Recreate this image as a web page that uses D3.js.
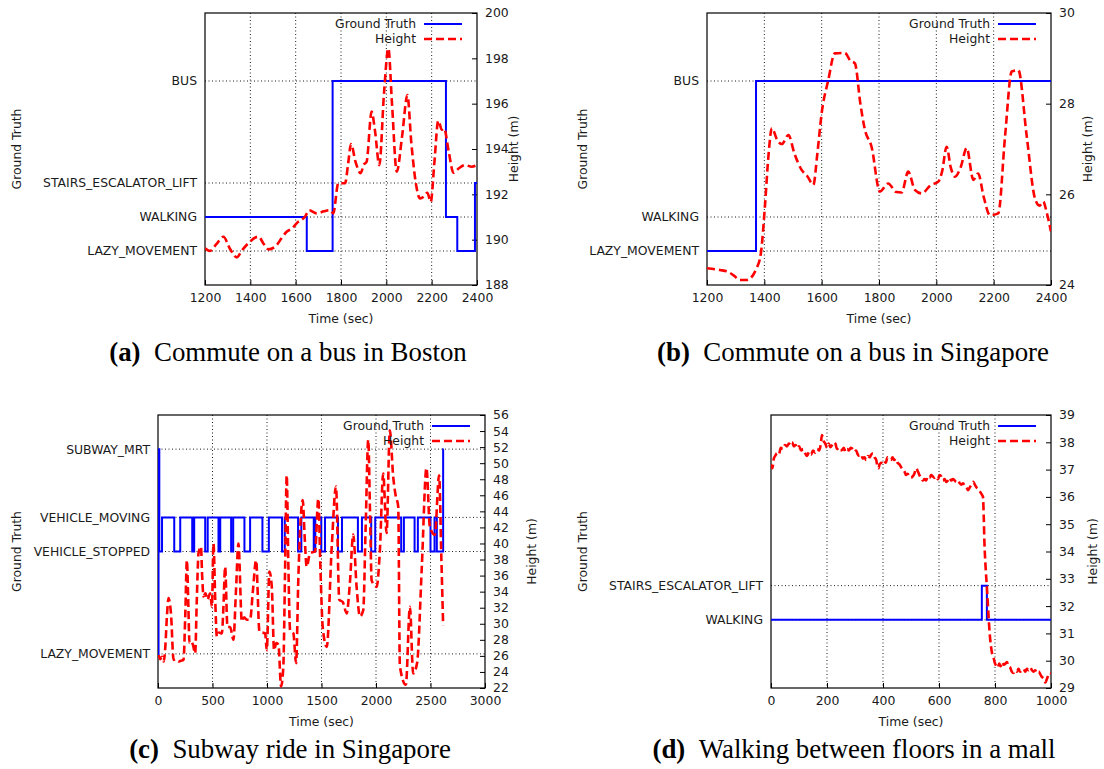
<!DOCTYPE html>
<html><head><meta charset="utf-8">
<script src="https://cdn.jsdelivr.net/npm/d3@7/dist/d3.min.js"></script>
<style>body{margin:0;background:#fff}svg{display:block}</style>
</head><body>
<svg id="c" width="1104" height="769"></svg>
<script>
// ---------- DATA ----------
const categoryCodes = {LAZY_MOVEMENT:1, WALKING:2, STAIRS_ESCALATOR_LIFT:3, VEHICLE_STOPPED:4, VEHICLE_MOVING:5, BUS:6, SUBWAY_MRT:7};
const legendLabels = ["Ground Truth", "Height"];
const captions = [
  ["a", "Commute on a bus in Boston"],
  ["b", "Commute on a bus in Singapore"],
  ["c", "Subway ride in Singapore"],
  ["d", "Walking between floors in a mall"]
];
// panel (a) Boston bus
const catsBoston = ["BUS", "STAIRS_ESCALATOR_LIFT", "WALKING", "LAZY_MOVEMENT"];
const timeTicksBus = [1200, 1400, 1600, 1800, 2000, 2200, 2400];
const heightTicksBoston = [188, 190, 192, 194, 196, 198, 200];
const truthBoston = [[1200,"WALKING"],[1649,"LAZY_MOVEMENT"],[1763,"BUS"],[2263,"WALKING"],[2313,"LAZY_MOVEMENT"],[2391,"STAIRS_ESCALATOR_LIFT"],[2400,"STAIRS_ESCALATOR_LIFT"]];
const heightBoston = [[1200,189.62],[1222,189.5],[1250,189.8],[1281,190.13],[1310,189.6],[1340,189.22],[1365,189.55],[1391,189.84],[1435,190.13],[1460,189.8],[1480,189.57],[1516,189.76],[1540,190.1],[1560,190.35],[1585,190.5],[1604,190.72],[1641,191.01],[1660,191.3],[1693,191.16],[1725,191.25],[1751,191.3],[1766,191.16],[1788,192.49],[1818,192.49],[1832,193.4],[1844,194.22],[1865,193.4],[1887,192.93],[1900,193.3],[1913,193.44],[1935,195.65],[1950,194.8],[1969,193.29],[1990,196.5],[2009,198.44],[2025,196.0],[2046,193.0],[2070,194.6],[2093,196.38],[2110,194.3],[2130,192.5],[2149,191.82],[2165,191.9],[2181,192.07],[2196,191.67],[2212,193.4],[2229,195.25],[2245,194.85],[2255,194.91],[2275,193.9],[2296,192.95],[2320,193.15],[2347,193.29],[2377,193.22],[2400,193.29]];
// panel (b) Singapore bus
const catsSingapore = ["BUS", "WALKING", "LAZY_MOVEMENT"];
const heightTicksSingapore = [24, 26, 28, 30];
const truthSingapore = [[1200,"LAZY_MOVEMENT"],[1371,"BUS"],[2400,"BUS"]];
const heightSingapore = [[1200,24.37],[1245,24.33],[1274,24.29],[1295,24.2],[1315,24.11],[1338,24.11],[1373,24.37],[1388,24.7],[1402,25.73],[1415,26.9],[1426,27.46],[1445,27.2],[1461,27.11],[1484,27.31],[1505,26.9],[1530,26.54],[1550,26.4],[1571,26.21],[1585,26.9],[1600,27.79],[1623,28.52],[1646,29.11],[1681,29.12],[1700,28.95],[1716,28.89],[1735,28.0],[1751,27.42],[1774,27.05],[1803,26.06],[1832,26.24],[1860,26.05],[1879,26.04],[1902,26.5],[1925,26.1],[1949,26.02],[1980,26.2],[2007,26.28],[2020,26.5],[2036,27.05],[2050,26.6],[2065,26.39],[2085,26.6],[2106,27.02],[2129,26.32],[2146,26.46],[2165,25.95],[2187,25.54],[2216,25.58],[2240,27.3],[2263,28.71],[2286,28.74],[2315,27.3],[2344,25.91],[2360,25.75],[2373,25.84],[2385,25.6],[2400,25.18]];
// panel (c) subway
const catsSubway = ["SUBWAY_MRT", "VEHICLE_MOVING", "VEHICLE_STOPPED", "LAZY_MOVEMENT"];
const timeTicksSubway = [0, 500, 1000, 1500, 2000, 2500, 3000];
const heightTicksSubway = [22,24,26,28,30,32,34,36,38,40,42,44,46,48,50,52,54,56];
const truthSubway = [[0,"LAZY_MOVEMENT"],[5,"SUBWAY_MRT"],[12,"VEHICLE_STOPPED"],[37,"VEHICLE_MOVING"],[149,"VEHICLE_STOPPED"],[204,"VEHICLE_MOVING"],[314,"VEHICLE_STOPPED"],[332,"VEHICLE_MOVING"],[433,"VEHICLE_STOPPED"],[456,"VEHICLE_MOVING"],[555,"VEHICLE_STOPPED"],[571,"VEHICLE_MOVING"],[671,"VEHICLE_STOPPED"],[690,"VEHICLE_MOVING"],[793,"VEHICLE_STOPPED"],[845,"VEHICLE_MOVING"],[958,"VEHICLE_STOPPED"],[1017,"VEHICLE_MOVING"],[1138,"VEHICLE_STOPPED"],[1163,"VEHICLE_MOVING"],[1285,"VEHICLE_STOPPED"],[1315,"VEHICLE_MOVING"],[1429,"VEHICLE_STOPPED"],[1443,"VEHICLE_MOVING"],[1498,"VEHICLE_STOPPED"],[1532,"VEHICLE_MOVING"],[1651,"VEHICLE_STOPPED"],[1688,"VEHICLE_MOVING"],[1834,"VEHICLE_STOPPED"],[1871,"VEHICLE_MOVING"],[1956,"VEHICLE_STOPPED"],[1993,"VEHICLE_MOVING"],[2231,"VEHICLE_STOPPED"],[2256,"VEHICLE_MOVING"],[2354,"VEHICLE_STOPPED"],[2384,"VEHICLE_MOVING"],[2500,"VEHICLE_STOPPED"],[2537,"VEHICLE_MOVING"],[2558,"VEHICLE_STOPPED"],[2616,"SUBWAY_MRT"],[2620,"SUBWAY_MRT"]];
const heightSubway = [[5,26.1],[20,25.6],[37,25.9],[52,25.3],[67,27.1],[82,31],[97,33.2],[108,32.6],[119,31.3],[143,25.5],[160,25.6],[189,25.3],[210,25.4],[234,25.5],[250,31],[265,37.9],[277,33],[289,27.6],[305,27.8],[320,27.4],[341,26.3],[356,33],[372,38.8],[394,39.6],[405,36],[418,33.4],[436,33.8],[454,33.0],[479,33.8],[495,32.1],[509,40.0],[525,33],[540,28.4],[560,28.9],[586,28.8],[600,32],[616,37.1],[637,29.6],[662,29.6],[692,28.0],[715,34],[738,40.0],[769,30.3],[790,30.8],[815,30.5],[845,30.5],[870,34],[900,37.9],[931,29.0],[983,28.8],[998,26.7],[1022,36.5],[1044,34.6],[1065,26.7],[1085,27.6],[1105,27.4],[1129,22.2],[1150,24.7],[1165,36],[1181,48.5],[1195,38],[1212,29.2],[1242,28.8],[1267,25.1],[1288,35.9],[1328,45.4],[1345,41],[1364,37.1],[1395,38.8],[1441,39.0],[1471,45.6],[1490,37],[1511,29.6],[1548,27.1],[1594,39.6],[1633,47.1],[1663,33.0],[1695,32.7],[1731,31.3],[1760,35],[1791,41.1],[1822,34.6],[1853,30.9],[1883,31.7],[1905,42],[1929,52.9],[1945,44],[1960,35.4],[2006,34.6],[2036,39.2],[2066,48.7],[2097,41.3],[2127,54.1],[2158,48.3],[2180,46],[2204,44.6],[2219,24.7],[2274,22.4],[2311,32.1],[2341,23.8],[2377,25.1],[2420,37],[2463,49.4],[2494,42.1],[2540,41.1],[2579,48.5],[2600,38],[2616,29.8]];
// panel (d) mall
const catsMall = ["STAIRS_ESCALATOR_LIFT", "WALKING"];
const timeTicksMall = [0, 200, 400, 600, 800, 1000];
const heightTicksMall = [29, 30, 31, 32, 33, 34, 35, 36, 37, 38, 39];
const truthMall = [[0,"WALKING"],[753,"STAIRS_ESCALATOR_LIFT"],[771,"WALKING"],[1000,"WALKING"]];
const heightMall = [[0,37.2],[5,37.05],[10,37.4],[15,37.5],[22,37.6],[28,37.55],[35,37.8],[42,37.75],[50,37.9],[57,37.85],[64,37.95],[70,37.9],[75,38.0],[82,37.85],[88,37.9],[93,37.78],[100,37.85],[108,37.7],[115,37.75],[122,37.6],[129,37.5],[136,37.65],[143,37.55],[150,37.7],[158,37.62],[165,37.75],[172,37.7],[178,37.95],[182,38.27],[188,38.05],[194,37.95],[200,37.8],[206,37.95],[212,37.82],[218,37.9],[224,38.0],[230,37.95],[236,37.75],[242,37.8],[248,37.7],[254,37.72],[260,37.8],[266,37.65],[272,37.75],[278,37.7],[285,37.8],[292,37.75],[298,37.65],[304,37.7],[310,37.55],[316,37.5],[322,37.55],[328,37.4],[334,37.45],[340,37.35],[346,37.5],[352,37.45],[358,37.55],[364,37.6],[370,37.45],[376,37.35],[380,37.1],[384,37.05],[388,37.2],[394,37.25],[400,37.35],[405,37.3],[410,37.25],[416,37.45],[422,37.4],[428,37.35],[434,37.45],[440,37.35],[446,37.4],[452,37.25],[458,37.2],[464,37.1],[470,37.0],[476,36.95],[482,36.8],[488,36.85],[494,36.75],[500,36.7],[506,36.75],[512,36.85],[518,37.05],[524,36.95],[530,36.8],[536,36.7],[542,36.6],[548,36.65],[554,36.6],[560,36.75],[566,36.7],[572,36.8],[578,36.75],[584,36.7],[590,36.75],[596,36.65],[602,36.8],[608,36.75],[614,36.6],[620,36.65],[626,36.55],[632,36.6],[638,36.7],[644,36.6],[650,36.65],[656,36.6],[662,36.55],[668,36.6],[674,36.5],[680,36.45],[686,36.5],[692,36.4],[698,36.35],[704,36.25],[710,36.35],[716,36.45],[722,36.55],[728,36.45],[734,36.35],[740,36.3],[746,36.2],[752,36.1],[757,36.0],[760,35.2],[762,34.4],[766,33.5],[771,32.7],[776,31.8],[781,31.0],[786,30.5],[790,30.25],[795,30.1],[800,29.9],[805,29.8],[810,29.75],[815,29.9],[820,29.8],[826,29.95],[832,29.85],[838,29.9],[843,29.95],[848,29.8],[854,29.75],[860,29.6],[866,29.55],[872,29.65],[878,29.6],[884,29.7],[890,29.6],[896,29.65],[902,29.7],[908,29.6],[914,29.7],[920,29.65],[926,29.75],[932,29.65],[938,29.6],[944,29.65],[950,29.55],[956,29.6],[962,29.5],[968,29.4],[974,29.35],[980,29.2],[986,29.35],[992,29.5],[997,29.55],[1000,29.5]];

// ---------- LAYOUT ----------
const panels = [
  {box:[205,477,13,285], xDom:[1200,2400], xTicks:timeTicksBus, hDom:[188,200], hTicks:heightTicksBoston, cats:catsBoston, truth:truthBoston, height:heightBoston, gtX:17, hX:514, cap:captions[0], capX:288, capY:361},
  {box:[707,1051,13,285], xDom:[1200,2400], xTicks:timeTicksBus, hDom:[24,30], hTicks:heightTicksSingapore, cats:catsSingapore, truth:truthSingapore, height:heightSingapore, gtX:583, hX:1088, cap:captions[1], capX:853, capY:361},
  {box:[158,485,415,688], xDom:[0,3000], xTicks:timeTicksSubway, hDom:[22,56], hTicks:heightTicksSubway, cats:catsSubway, truth:truthSubway, height:heightSubway, gtX:17, hX:532, cap:captions[2], capX:290, capY:758},
  {box:[771,1051,415,688], xDom:[0,1000], xTicks:timeTicksMall, hDom:[29,39], hTicks:heightTicksMall, cats:catsMall, truth:truthMall, height:heightMall, gtX:583, hX:1093, cap:captions[3], capX:854, capY:758}
];
const SANS = "'DejaVu Sans', sans-serif";
const FS = "12.4px";
const TXT = "#1a1a1a";
const svg = d3.select("#c");
const defs = svg.append("defs");

panels.forEach((p, i) => {
  const [L, R, T, B] = p.box;
  const x = d3.scaleLinear().domain(p.xDom).range([L, R]);
  const yG = d3.scaleLinear().domain([0, 8]).range([B, T]);
  const yH = d3.scaleLinear().domain(p.hDom).range([B, T]);
  const g = svg.append("g");
  const clipId = "clip" + i;
  defs.append("clipPath").attr("id", clipId).append("rect").attr("x", L).attr("y", T).attr("width", R - L).attr("height", B - T);

  // grid
  const grid = g.append("g").attr("stroke", "#000").attr("stroke-width", 0.9).attr("stroke-dasharray", "1,2.5");
  p.xTicks.filter(v => v > p.xDom[0] && v < p.xDom[1]).forEach(v => {
    grid.append("line").attr("x1", x(v)).attr("x2", x(v)).attr("y1", T).attr("y2", B);
  });
  p.cats.forEach(c => {
    grid.append("line").attr("x1", L).attr("x2", R).attr("y1", yG(categoryCodes[c])).attr("y2", yG(categoryCodes[c]));
  });

  // x axis
  const xa = g.append("g").attr("transform", `translate(0,${B})`)
    .call(d3.axisBottom(x).tickValues(p.xTicks).tickFormat(d3.format("d")).tickSize(-5).tickPadding(8));
  xa.select(".domain").remove();
  xa.selectAll("text").style("font-family", SANS).style("font-size", FS).attr("fill", TXT);
  // left category axis
  const ya = g.append("g").attr("transform", `translate(${L},0)`)
    .call(d3.axisLeft(yG).tickValues(p.cats.map(c => categoryCodes[c])).tickFormat(v => p.cats.find(c => categoryCodes[c] === v)).tickSize(0).tickPadding(8));
  ya.select(".domain").remove();
  ya.selectAll("text").style("font-family", SANS).style("font-size", FS).attr("fill", TXT);
  // right height axis
  const ha = g.append("g").attr("transform", `translate(${R},0)`)
    .call(d3.axisRight(yH).tickValues(p.hTicks).tickFormat(d3.format("d")).tickSize(-5).tickPadding(8));
  ha.select(".domain").remove();
  ha.selectAll("text").style("font-family", SANS).style("font-size", FS).attr("fill", TXT);

  // frame
  g.append("rect").attr("x", L).attr("y", T).attr("width", R - L).attr("height", B - T).attr("fill", "none").attr("stroke", "#000").attr("stroke-width", 1.2);

  // axis titles
  g.append("text").attr("x", (L + R) / 2).attr("y", B + 38).attr("text-anchor", "middle").style("font-family", SANS).style("font-size", FS).attr("fill", TXT).text("Time (sec)");
  g.append("text").attr("transform", `translate(${p.gtX},${(T + B) / 2}) rotate(-90)`).attr("text-anchor", "middle").attr("dy", "0.35em").style("font-family", SANS).style("font-size", FS).attr("fill", TXT).text("Ground Truth");
  g.append("text").attr("transform", `translate(${p.hX},${(T + B) / 2}) rotate(-90)`).attr("text-anchor", "middle").attr("dy", "0.35em").style("font-family", SANS).style("font-size", FS).attr("fill", TXT).text("Height (m)");

  // lines
  const lines = g.append("g").attr("clip-path", `url(#${clipId})`);
  lines.append("path").datum(p.truth)
    .attr("d", d3.line().x(d => x(d[0])).y(d => yG(categoryCodes[d[1]])).curve(d3.curveStepAfter))
    .attr("fill", "none").attr("stroke", "#0000ff").attr("stroke-width", 2);
  lines.append("path").datum(p.height)
    .attr("d", d3.line().x(d => x(d[0])).y(d => yH(d[1])).curve(d3.curveMonotoneX))
    .attr("fill", "none").attr("stroke", "#ff0000").attr("stroke-width", 2.6).attr("stroke-dasharray", "8,4");

  // legend
  const lg = g.append("g");
  [0, 1].forEach(k => {
    const ly = T + 11 + k * 15;
    lg.append("text").attr("x", R - 61).attr("y", ly).attr("dy", "0.35em").attr("text-anchor", "end").style("font-family", SANS).style("font-size", FS).attr("fill", TXT).text(legendLabels[k]);
    lg.append("line").attr("x1", R - 53).attr("x2", R - 15).attr("y1", ly).attr("y2", ly)
      .attr("stroke", k === 0 ? "#0000ff" : "#ff0000").attr("stroke-width", k === 0 ? 2 : 2.6).attr("stroke-dasharray", k === 0 ? null : "8,4");
  });
});

// captions
const capTexts = panels.map(p => {
  const t = svg.append("text").attr("x", p.capX).attr("y", p.capY).attr("text-anchor", "middle")
    .style("font-family", "'Liberation Serif', serif").style("font-size", "20px").attr("fill", "#000");
  t.append("tspan").style("font-weight", "bold").text("(" + p.cap[0] + ")");
  t.append("tspan").text("\u2002" + p.cap[1]);
  return t;
});
const w = capTexts[1].node().getComputedTextLength();
const capSize = 20 * 392 / w;
capTexts.forEach(t => t.style("font-size", capSize.toFixed(2) + "px"));
</script>
</body></html>
